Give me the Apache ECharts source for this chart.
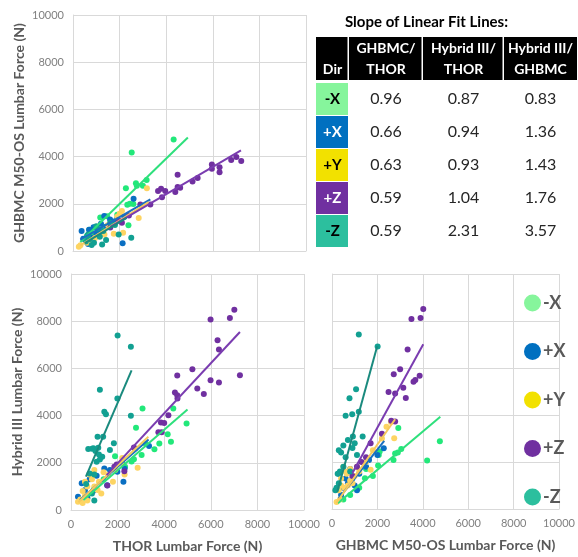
<!DOCTYPE html>
<html>
<head>
<meta charset="utf-8">
<script src="https://cdn.jsdelivr.net/npm/echarts@6/dist/echarts.min.js"></script>
<style>
  html, body { margin: 0; padding: 0; background: #fff; }
  #chart { width: 578px; height: 557px; }
</style>
</head>
<body>
<div id="chart"></div>
<script>
// directions
const dirs = ['-X', '+X', '+Y', '+Z', '-Z']

// slope table
const slopeGhbmcThor = [0.96, 0.66, 0.63, 0.59, 0.59]
const slopeHiiiThor = [0.87, 0.94, 0.93, 1.04, 2.31]
const slopeHiiiGhbmc = [0.83, 1.36, 1.43, 1.76, 3.57]
const tableHeaders = [['Dir'], ['GHBMC/', 'THOR'], ['Hybrid III/', 'THOR'], ['Hybrid III/', 'GHBMC']]

// THOR (x) vs GHBMC (y)
const tgMX = [[4320,4720],[2520,4170],[2270,2660],[2700,2870],[2740,2760],[3160,3010],[3000,2770],[2330,1960],[2590,1990],[2440,2000],[2380,1090],[1300,1030],[1170,1420],[1460,1470],[1900,1540],[940,1010],[700,900],[600,650],[800,760],[1050,820]]
const tgPX = [[2600,2210],[370,850],[440,520],[690,900],[880,1010],[1340,1480],[1590,1340],[1890,1370],[2130,330],[1750,1250],[1200,1150],[1000,700],[800,560],[650,300],[1100,900],[1450,1050],[2200,1450],[620,620]]
const tgPY = [[3170,2660],[2820,1400],[2100,1690],[2150,770],[1750,730],[320,240],[250,180],[1350,700],[1900,1450],[1150,650],[700,400],[950,550],[2000,1580],[1500,1100],[600,350]]
const tgPZ = [[7220,3810],[7010,3980],[6790,3860],[6290,3340],[6290,3550],[5960,3670],[5960,3480],[5350,3090],[5130,2950],[4490,3230],[4490,2710],[4390,2500],[4600,2680],[3960,2540],[3780,2640],[3650,2540],[3820,2280],[3320,1970],[2890,1970],[2400,1500],[1950,1300],[1600,1000],[2100,1200]]
const tgMZ = [[2500,560],[1960,700],[1420,470],[1150,600],[900,350],[800,250],[700,500],[1050,950],[1300,850],[650,700],[1600,1200],[550,400],[1250,280],[1000,1050],[1800,1100]]
const tgFit = {
  '-X': [[315,380],[4930,4810]],
  '+X': [[315,480],[3320,2190]],
  '+Y': [[315,240],[3250,2070]],
  '+Z': [[1600,1020],[7210,4260]],
  '-Z': [[500,330],[2300,1400]]
}

// THOR (x) vs Hybrid III (y)
const thMX = [[3070,4300],[4390,4300],[4960,3670],[4290,2890],[4150,3210],[3790,2820],[3580,2570],[3200,2820],[2790,3480],[3030,2330],[2700,2150],[1890,2280],[2320,1830],[2600,2050],[2200,2000],[1400,1300],[1000,900],[700,550]]
const thPX = [[3350,2710],[2750,2610],[2250,1200],[1990,1620],[1430,1760],[460,1130],[600,850],[1670,1690],[300,560],[800,1300],[1100,1450],[2300,1750],[1550,1050],[700,500],[950,800]]
const thPY = [[2860,1790],[1600,1480],[1140,850],[2200,2200],[1900,1700],[2150,2000],[300,350],[400,450],[500,300],[600,600],[700,1000],[800,1500],[900,1300],[1000,1700],[1200,1200],[1400,1600],[600,1200],[500,800],[1300,700],[1800,1200],[2300,1500],[700,400],[1000,1000]]
const thPZ = [[7010,8490],[6820,8140],[5990,8070],[6290,7190],[6350,6800],[7250,5710],[5990,5500],[6350,5400],[5210,5960],[5420,5150],[5700,4920],[4560,5700],[4460,4980],[4560,4860],[4570,4720],[4180,4020],[3860,3710],[4000,3690],[3750,3290],[3890,3290],[2290,1640],[1560,1040],[1960,1930],[1860,1830],[2700,2650]]
const thMZ = [[2000,7390],[2570,6920],[1240,5100],[1990,4720],[1430,4160],[1500,4060],[2570,3990],[1140,3100],[1380,3100],[1670,2540],[1840,2830],[740,2580],[960,2620],[1170,2640],[1050,2500],[1340,2260],[1240,2140],[1100,2040],[900,2600],[1200,2350],[800,1550],[1000,1500],[650,1100],[900,700],[1000,400]]
const thFit = {
  '-X': [[530,420],[5000,4260]],
  '+X': [[386,420],[3330,2990]],
  '+Y': [[315,324],[3320,3100]],
  '+Z': [[1530,1480],[7250,7540]],
  '-Z': [[640,1410],[2600,5920]]
}

// GHBMC (x) vs Hybrid III (y)
const ghMX = [[4750,2880],[4190,2060],[2920,3450],[2780,2360],[2710,2090],[2060,2300],[2030,1850],[1450,1310],[2900,2400],[3050,2550],[2100,2450],[1800,1400],[1200,900],[800,600],[500,400],[1500,1700]]
const ghPX = [[2280,2590],[1630,2090],[1500,1800],[1200,1500],[900,1300],[700,1100],[500,900],[400,600],[1000,1000],[800,1700],[600,1300],[2000,2300],[1100,800],[300,1500]]
const ghPY = [[2740,3010],[1700,1670],[2600,3700],[2400,3500],[2200,3000],[1800,2500],[1500,2000],[1200,1600],[1000,1400],[800,1200],[700,1000],[600,1600],[500,1800],[400,1300],[300,800],[200,300],[350,400],[900,1100],[650,1500],[550,900],[1100,1800],[800,1700],[400,1000]]
const ghPZ = [[4020,8510],[3900,8130],[3500,8090],[3330,6790],[3000,5950],[2720,5730],[3670,5490],[3590,5420],[3860,5670],[3140,5160],[2490,4980],[2780,4920],[3250,4720],[2610,3760],[2780,3720],[1700,2800],[1500,2200],[1100,1800],[900,1400],[1300,2000],[2200,3200]]
const ghMZ = [[1180,7430],[2010,6920],[1060,5100],[770,4710],[600,3970],[890,4030],[1180,4140],[920,3080],[1350,3080],[700,2940],[500,2700],[400,2400],[900,2600],[1000,2800],[300,2500],[600,2200],[1100,2300],[350,1600],[250,1500],[200,900],[500,1800],[800,1600],[300,1100],[150,800]]
const ghFit = {
  '-X': [[260,250],[4770,3930]],
  '+X': [[300,450],[2300,2900]],
  '+Y': [[190,250],[2780,3820]],
  '+Z': [[900,1530],[4020,7010]],
  '-Z': [[230,720],[1990,6930]]
}

const pointColors = { '-X': '#22e87a', '+X': '#0a6fc2', '+Y': '#fdd462', '+Z': '#7030a0', '-Z': '#12a092' }
const lineColors = { '-X': '#2ee07c', '+X': '#1a6fc0', '+Y': '#f5c95e', '+Z': '#7a3cb0', '-Z': '#1a8a7e' }
const keyColors = { '-X': '#86f59c', '+X': '#0070c0', '+Y': '#f2e100', '+Z': '#7030a0', '-Z': '#2cbf9e' }
const keyText = { '-X': '#000', '+X': '#fff', '+Y': '#000', '+Z': '#fff', '-Z': '#000' }

const font = 'Lato, "Open Sans", sans-serif'
const gridColor = '#d9d9d9'

const chart = echarts.init(document.getElementById('chart'))

function makeAxis(gridIndex, showLabel, name, nameGap) {
  return {
    type: 'value',
    gridIndex: gridIndex,
    min: 0,
    max: 10000,
    interval: 2000,
    name: name,
    nameLocation: 'middle',
    nameGap: nameGap,
    nameTextStyle: { fontFamily: font, fontSize: 14, fontWeight: 'bold', color: '#595959' },
    axisLine: { show: true, lineStyle: { color: gridColor } },
    axisTick: { show: false },
    axisLabel: {
      show: showLabel, fontFamily: font, fontSize: 11, color: '#808080', margin: 9,
      formatter: function (v) { return String(v) }
    },
    splitLine: { show: true, lineStyle: { color: gridColor, width: 1 } }
  }
}

const sets = [
  { grid: 0, pts: { '-X': tgMX, '+X': tgPX, '+Y': tgPY, '+Z': tgPZ, '-Z': tgMZ }, fit: tgFit },
  { grid: 1, pts: { '-X': thMX, '+X': thPX, '+Y': thPY, '+Z': thPZ, '-Z': thMZ }, fit: thFit },
  { grid: 2, pts: { '-X': ghMX, '+X': ghPX, '+Y': ghPY, '+Z': ghPZ, '-Z': ghMZ }, fit: ghFit }
]

const series = []
sets.forEach(function (s) {
  dirs.forEach(function (d) {
    series.push({
      name: d,
      type: 'scatter',
      xAxisIndex: s.grid,
      yAxisIndex: s.grid,
      data: s.pts[d],
      symbolSize: 6,
      itemStyle: { color: pointColors[d], opacity: 1 },
      animation: false
    })
  })
  dirs.forEach(function (d) {
    series.push({
      name: 'fit ' + d,
      type: 'line',
      xAxisIndex: s.grid,
      yAxisIndex: s.grid,
      data: s.fit[d],
      symbol: 'none',
      silent: true,
      lineStyle: { color: lineColors[d], width: 2 },
      z: 3,
      animation: false
    })
  })
})

// table drawn as graphic elements
const colX = [316, 349, 423, 504, 577]
const headTop = 37, headBottom = 80
const rowTops = [83, 116, 149, 182, 215]
const rowH = 32
const graphic = []
graphic.push({
  type: 'text', left: 445 - 100, top: 15,
  style: { text: 'Slope of Linear Fit Lines:', font: 'bold 15px ' + font, fill: '#000', width: 200, align: 'center' }
})
graphic.push({
  type: 'rect', shape: { x: colX[0], y: headTop, width: colX[4] - colX[0], height: headBottom - headTop },
  style: { fill: '#000' }
})
for (let c = 1; c < 4; c++) {
  graphic.push({
    type: 'rect', shape: { x: colX[c] - 1.5, y: headTop, width: 1.5, height: headBottom - headTop },
    style: { fill: '#fff' }
  })
}
tableHeaders.forEach(function (lines, c) {
  const cx = (colX[c] + colX[c + 1]) / 2
  lines.forEach(function (t, i) {
    const y = lines.length === 1 ? 69 : (i === 0 ? 48 : 69)
    graphic.push({
      type: 'text', x: cx, y: y,
      style: { text: t, font: 'bold 14px ' + font, fill: '#fff', align: 'center', verticalAlign: 'middle' }
    })
  })
})
const valueCols = [slopeGhbmcThor, slopeHiiiThor, slopeHiiiGhbmc]
dirs.forEach(function (d, r) {
  const cy = rowTops[r] + rowH / 2
  graphic.push({
    type: 'rect', shape: { x: colX[0], y: rowTops[r], width: colX[1] - colX[0] - 1, height: rowH },
    style: { fill: keyColors[d] }
  })
  graphic.push({
    type: 'text', x: (colX[0] + colX[1]) / 2, y: cy,
    style: { text: d, font: 'bold 15px ' + font, fill: keyText[d], align: 'center', verticalAlign: 'middle' }
  })
  valueCols.forEach(function (vals, c) {
    graphic.push({
      type: 'text', x: (colX[c + 1] + colX[c + 2]) / 2, y: cy,
      style: { text: vals[r].toFixed(2), font: '16px ' + font, fill: '#262626', align: 'center', verticalAlign: 'middle' }
    })
  })
})

chart.setOption({
  backgroundColor: '#fff',
  animation: false,
  grid: [
    { left: 73, top: 15, width: 233, height: 236 },
    { left: 71, top: 274, width: 233, height: 236 },
    { left: 332, top: 274, width: 232, height: 235 }
  ],
  xAxis: [
    makeAxis(0, false, '', 0),
    makeAxis(1, true, 'THOR Lumbar Force (N)', 29),
    makeAxis(2, true, 'GHBMC M50-OS Lumbar Force (N)', 29)
  ],
  yAxis: [
    makeAxis(0, true, 'GHBMC M50-OS Lumbar Force (N)', 47),
    makeAxis(1, true, 'Hybrid III Lumbar Force (N)', 47),
    makeAxis(2, false, '', 0)
  ],
  legend: {
    orient: 'vertical',
    left: 519,
    top: 289,
    itemWidth: 17,
    itemHeight: 17,
    itemGap: 30.5,
    icon: 'circle',
    textStyle: { fontFamily: font, fontSize: 18, fontWeight: 'bold', color: '#595959', padding: [0, 0, 0, -3] },
    data: dirs.map(function (d) { return { name: d, itemStyle: { color: keyColors[d] } } })
  },
  graphic: graphic,
  series: series
})
</script>
</body>
</html>
